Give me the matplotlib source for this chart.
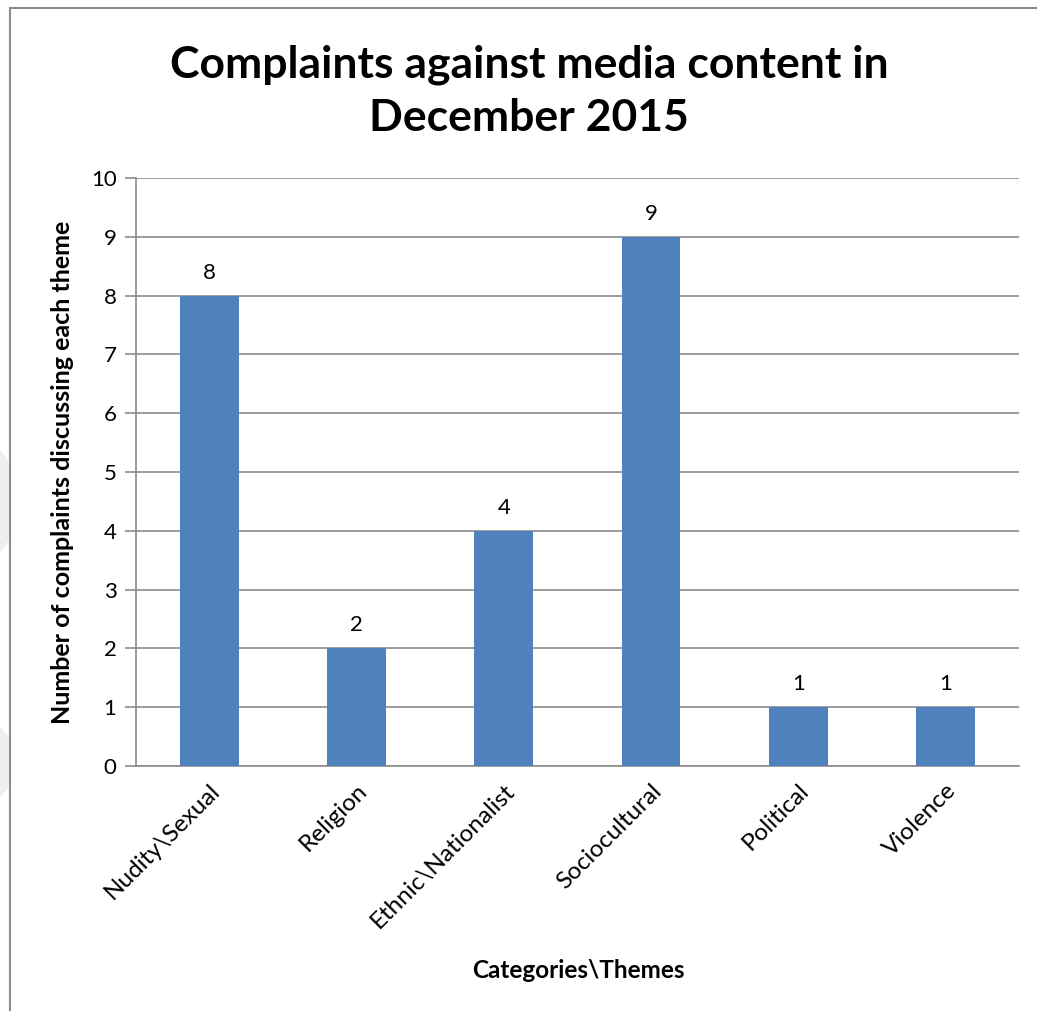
import matplotlib.pyplot as plt
from matplotlib.patches import Rectangle, Polygon

plt.rcParams['font.family'] = ['Lato', 'DejaVu Sans']

# complaints per theme, December 2015
themes = ['Nudity\\Sexual', 'Religion', 'Ethnic\\Nationalist', 'Sociocultural', 'Political', 'Violence']
complaints = [8, 2, 4, 9, 1, 1]
yticks = list(range(0, 11))

W, H = 1037, 1011
fig = plt.figure(figsize=(W / 100, H / 100), dpi=100)
ax = fig.add_axes([0.1311, 0.2423, 0.8515, 0.5816])

x = list(range(len(themes)))
bars = ax.bar(x, complaints, width=0.4, color='#4F81BD', zorder=3)
for b, v in zip(bars, complaints):
    ax.text(b.get_x() + b.get_width() / 2, v + 0.22, str(v), ha='center', va='bottom', fontsize=16)

ax.set_xlim(-0.5, len(themes) - 0.5)
ax.set_ylim(0, 10)
ax.set_yticks(yticks)
ax.tick_params(axis='y', labelsize=16, length=8, color='#8c8c8c', width=1.2, pad=6)
ax.set_xticks(x)
ax.set_xticklabels(themes, rotation=45, ha='right', rotation_mode='anchor', fontsize=17.5)
ax.tick_params(axis='x', length=0, pad=10)
ax.grid(axis='y', color='#8c8c8c', linewidth=1.2, zorder=0)
for s in ['top', 'right']:
    ax.spines[s].set_visible(False)
for s in ['left', 'bottom']:
    ax.spines[s].set_color('#8c8c8c')
    ax.spines[s].set_linewidth(1.2)

ax.set_ylabel('Number of complaints discussing each theme', fontsize=18, fontweight='bold', labelpad=12)
fig.text(578 / W, 1 - 970 / H, 'Categories\\Themes', ha='center', va='center', fontsize=17.5, fontweight='bold')
fig.text(529 / W, 1 - 91 / H, 'Complaints against media content in\nDecember 2015', ha='center', va='center',
         fontsize=32, fontweight='bold', linespacing=1.38)

# chart frame
fig.add_artist(Rectangle((10 / W, -0.01), 1.02, 1 - 8 / H + 0.01, transform=fig.transFigure,
                         fill=False, edgecolor='#8c8c8c', linewidth=1.5))

# faint page marks outside the frame
for pts in ([(0, 450), (9, 462), (9, 540), (0, 553)], [(0, 727), (9, 737), (9, 787), (0, 797)]):
    fig.add_artist(Polygon([(px / W, 1 - py / H) for px, py in pts], closed=True,
                           transform=fig.transFigure, facecolor='#eeeeee', edgecolor='none'))

fig.savefig('out.png', dpi=100)
